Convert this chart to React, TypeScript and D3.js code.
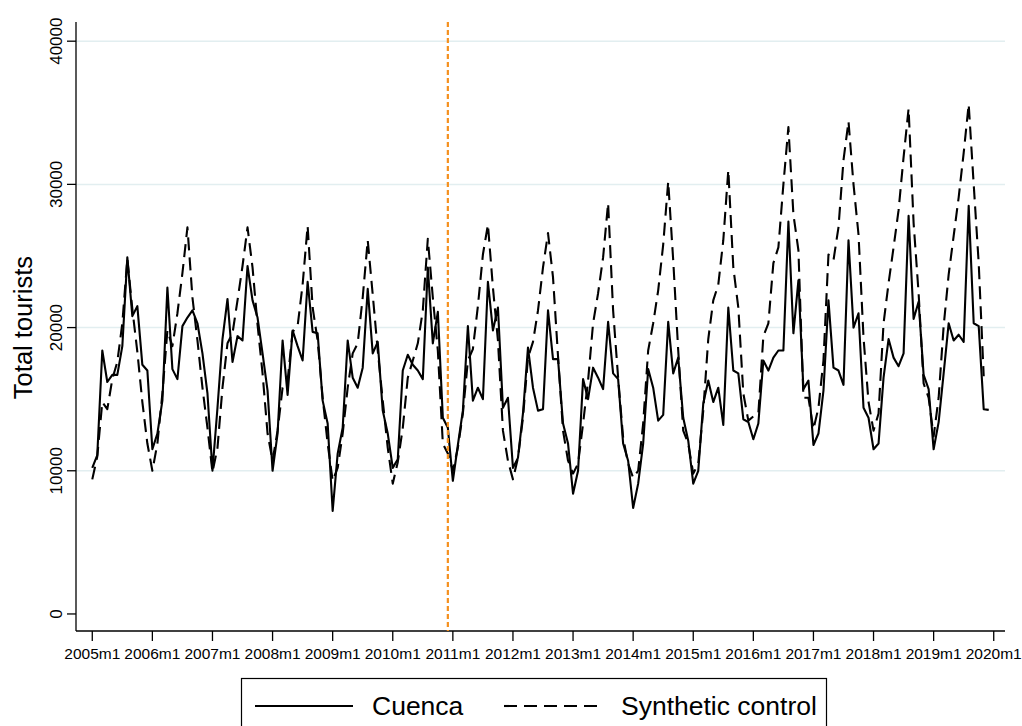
import { useMemo } from "react";
import { line, scaleLinear } from "d3";

const WIDTH = 1022;
const HEIGHT = 726;
const FONT = "'Liberation Sans', Arial, Helvetica, sans-serif";

// monthly series, 2005m1 onwards (index 0 = 2005m1)
const X_TICK_LABELS = [
  "2005m1", "2006m1", "2007m1", "2008m1", "2009m1", "2010m1", "2011m1", "2012m1",
  "2013m1", "2014m1", "2015m1", "2016m1", "2017m1", "2018m1", "2019m1", "2020m1",
];
const Y_TICKS = [0, 10000, 20000, 30000, 40000];
const TREATMENT_MONTH = 71; // 2010m12

const CUENCA = [
  10200, 11100, 18400, 16200, 16700, 16700, 18700, 24900, 20800, 21500, 17400, 17000,
  11500, 12600, 14900, 22800, 17100, 16400, 20100, 20700, 21200, 20300, 18200, 15400,
  10000, 14400, 19200, 22000, 17600, 19400, 19100, 24300, 21900, 20700, 18200, 15600,
  10000, 12600, 19100, 15300, 19800, 18700, 17700, 23200, 19700, 19600, 14900, 13300,
  7200, 11200, 13000, 19100, 16500, 15800, 17200, 22700, 18200, 19000, 14200, 12600,
  10200, 10800, 17000, 18100, 17400, 17000, 16400, 24200, 18900, 21100, 13700, 13000,
  9300, 11800, 14200, 20100, 14900, 15800, 15000, 23200, 19800, 21400, 14400, 15100,
  10200, 10900, 14000, 18600, 15800, 14200, 14300, 21200, 17800, 17800, 13300, 11900,
  8400, 10000, 16400, 15000, 17200, 16500, 15700, 20400, 16800, 16400, 11900, 10700,
  7400, 9100, 11900, 17100, 15800, 13500, 13900, 20400, 16800, 17900, 13700, 12100,
  9100, 10000, 14700, 16300, 14800, 15800, 13200, 21400, 17000, 16800, 13600, 13400,
  12200, 13300, 17700, 17000, 17900, 18400, 18400, 27400, 19600, 23300, 15700, 16300,
  11800, 12600, 15600, 21900, 17200, 17000, 16000, 26100, 20000, 21000, 14400, 13700,
  11500, 11900, 16500, 19200, 17900, 17300, 18200, 27800, 20600, 21800, 16700, 15700,
  11500, 13400, 16800, 20300, 19100, 19500, 19000, 28500, 20300, 20100, 14300, 14250,
];

const SYNTHETIC = [
  9400, 11000, 14800, 14300, 16400, 17600, 20300, 24800, 21300, 18300, 14800, 11900,
  10000, 11900, 15400, 19800, 18700, 21000, 23800, 27000, 22100, 19100, 15800, 13000,
  9900, 11600, 15800, 18900, 19600, 21900, 24300, 27000, 24200, 20200, 16800, 12600,
  10700, 12800, 15800, 16300, 19700, 20100, 23000, 27100, 21400, 19100, 15100, 11900,
  9300, 10200, 12600, 15800, 18200, 18900, 22100, 26100, 22300, 18400, 14900, 11600,
  9100, 10600, 13000, 16500, 17700, 18900, 21200, 26200, 22100, 18400, 11900, 11200,
  10000, 11600, 14000, 17700, 18500, 21500, 25100, 27200, 22800, 19100, 12800, 10700,
  9400, 10900, 13700, 17900, 19000, 21200, 24200, 26600, 23500, 18000, 12800, 10700,
  9800, 10500, 13300, 16300, 20300, 22400, 24900, 28700, 21200, 16500, 12300, 10500,
  9500, 10000, 13300, 18400, 20300, 22600, 25800, 30200, 24700, 18400, 12800, 11900,
  9800, 10500, 14200, 19200, 21900, 23000, 26100, 31000, 24200, 21400, 15400, 13500,
  13800, 14000, 19400, 20300, 24500, 25600, 30000, 34000, 27900, 25400, 15100, 15100,
  12900, 14400, 17700, 25100, 24700, 27000, 31700, 34400, 30000, 26500, 19300, 14800,
  12800, 14000, 20300, 23100, 25600, 28200, 31900, 35300, 27300, 22400, 16100, 15100,
  12400, 15100, 20100, 23700, 26400, 29100, 32200, 35600, 30000, 24500, 16600,
];

export default function App() {
  const x = useMemo(() => scaleLinear().domain([-3.25, 182.25]).range([76, 1005]), []);
  const y = useMemo(() => scaleLinear().domain([-1190, 41340]).range([631, 22]), []);
  const path = line<number>().x((_, i) => x(i)).y((v) => y(v));
  const [left, right] = x.range();
  const [bottom, top] = y.range();

  return (
    <svg
      width={WIDTH}
      height={HEIGHT}
      viewBox={`0 0 ${WIDTH} ${HEIGHT}`}
      style={{ position: "absolute", left: 0, top: 0, background: "#fff" }}
      fontFamily={FONT}
    >
      <rect width={WIDTH} height={HEIGHT} fill="#fff" />
      {Y_TICKS.filter((t) => t > 0).map((t) => (
        <line key={t} x1={left} x2={right} y1={y(t)} y2={y(t)} stroke="#e2eef0" strokeWidth={1.5} />
      ))}

      {/* y axis */}
      <line x1={left} x2={left} y1={top} y2={bottom} stroke="#000" strokeWidth={1.3} />
      {Y_TICKS.map((t) => (
        <g key={t}>
          <line x1={left - 9} x2={left} y1={y(t)} y2={y(t)} stroke="#000" strokeWidth={1.3} />
          <text
            transform={`translate(${left - 14},${y(t)}) rotate(-90)`}
            textAnchor="middle"
            fontSize={17}
          >
            {t}
          </text>
        </g>
      ))}
      <text transform={`translate(32,${y(20000)}) rotate(-90)`} textAnchor="middle" fontSize={25.5}>
        Total tourists
      </text>

      {/* x axis */}
      <line x1={left} x2={right} y1={bottom} y2={bottom} stroke="#000" strokeWidth={1.3} />
      {X_TICK_LABELS.map((label, i) => (
        <g key={label}>
          <line x1={x(i * 12)} x2={x(i * 12)} y1={bottom} y2={bottom + 10} stroke="#000" strokeWidth={1.3} />
          <text x={x(i * 12)} y={bottom + 28} textAnchor="middle" fontSize={15.5}>
            {label}
          </text>
        </g>
      ))}

      <path d={path(SYNTHETIC) ?? ""} fill="none" stroke="#000" strokeWidth={2.1} strokeDasharray="13 7" strokeLinejoin="round" />
      <path d={path(CUENCA) ?? ""} fill="none" stroke="#000" strokeWidth={2.1} strokeLinejoin="round" />

      <line
        x1={x(TREATMENT_MONTH)}
        x2={x(TREATMENT_MONTH)}
        y1={top}
        y2={bottom}
        stroke="#f5901e"
        strokeWidth={2.2}
        strokeDasharray="5 3"
      />

      {/* legend */}
      <rect x={241.5} y={678.5} width={585} height={60} fill="#fff" stroke="#000" strokeWidth={1.2} />
      <line x1={255} x2={353} y1={706} y2={706} stroke="#000" strokeWidth={2.1} />
      <text x={372} y={715} fontSize={26.5}>Cuenca</text>
      <line x1={504} x2={604} y1={706} y2={706} stroke="#000" strokeWidth={2.1} strokeDasharray="13 7" />
      <text x={621} y={715} fontSize={26.5}>Synthetic control</text>
    </svg>
  );
}
